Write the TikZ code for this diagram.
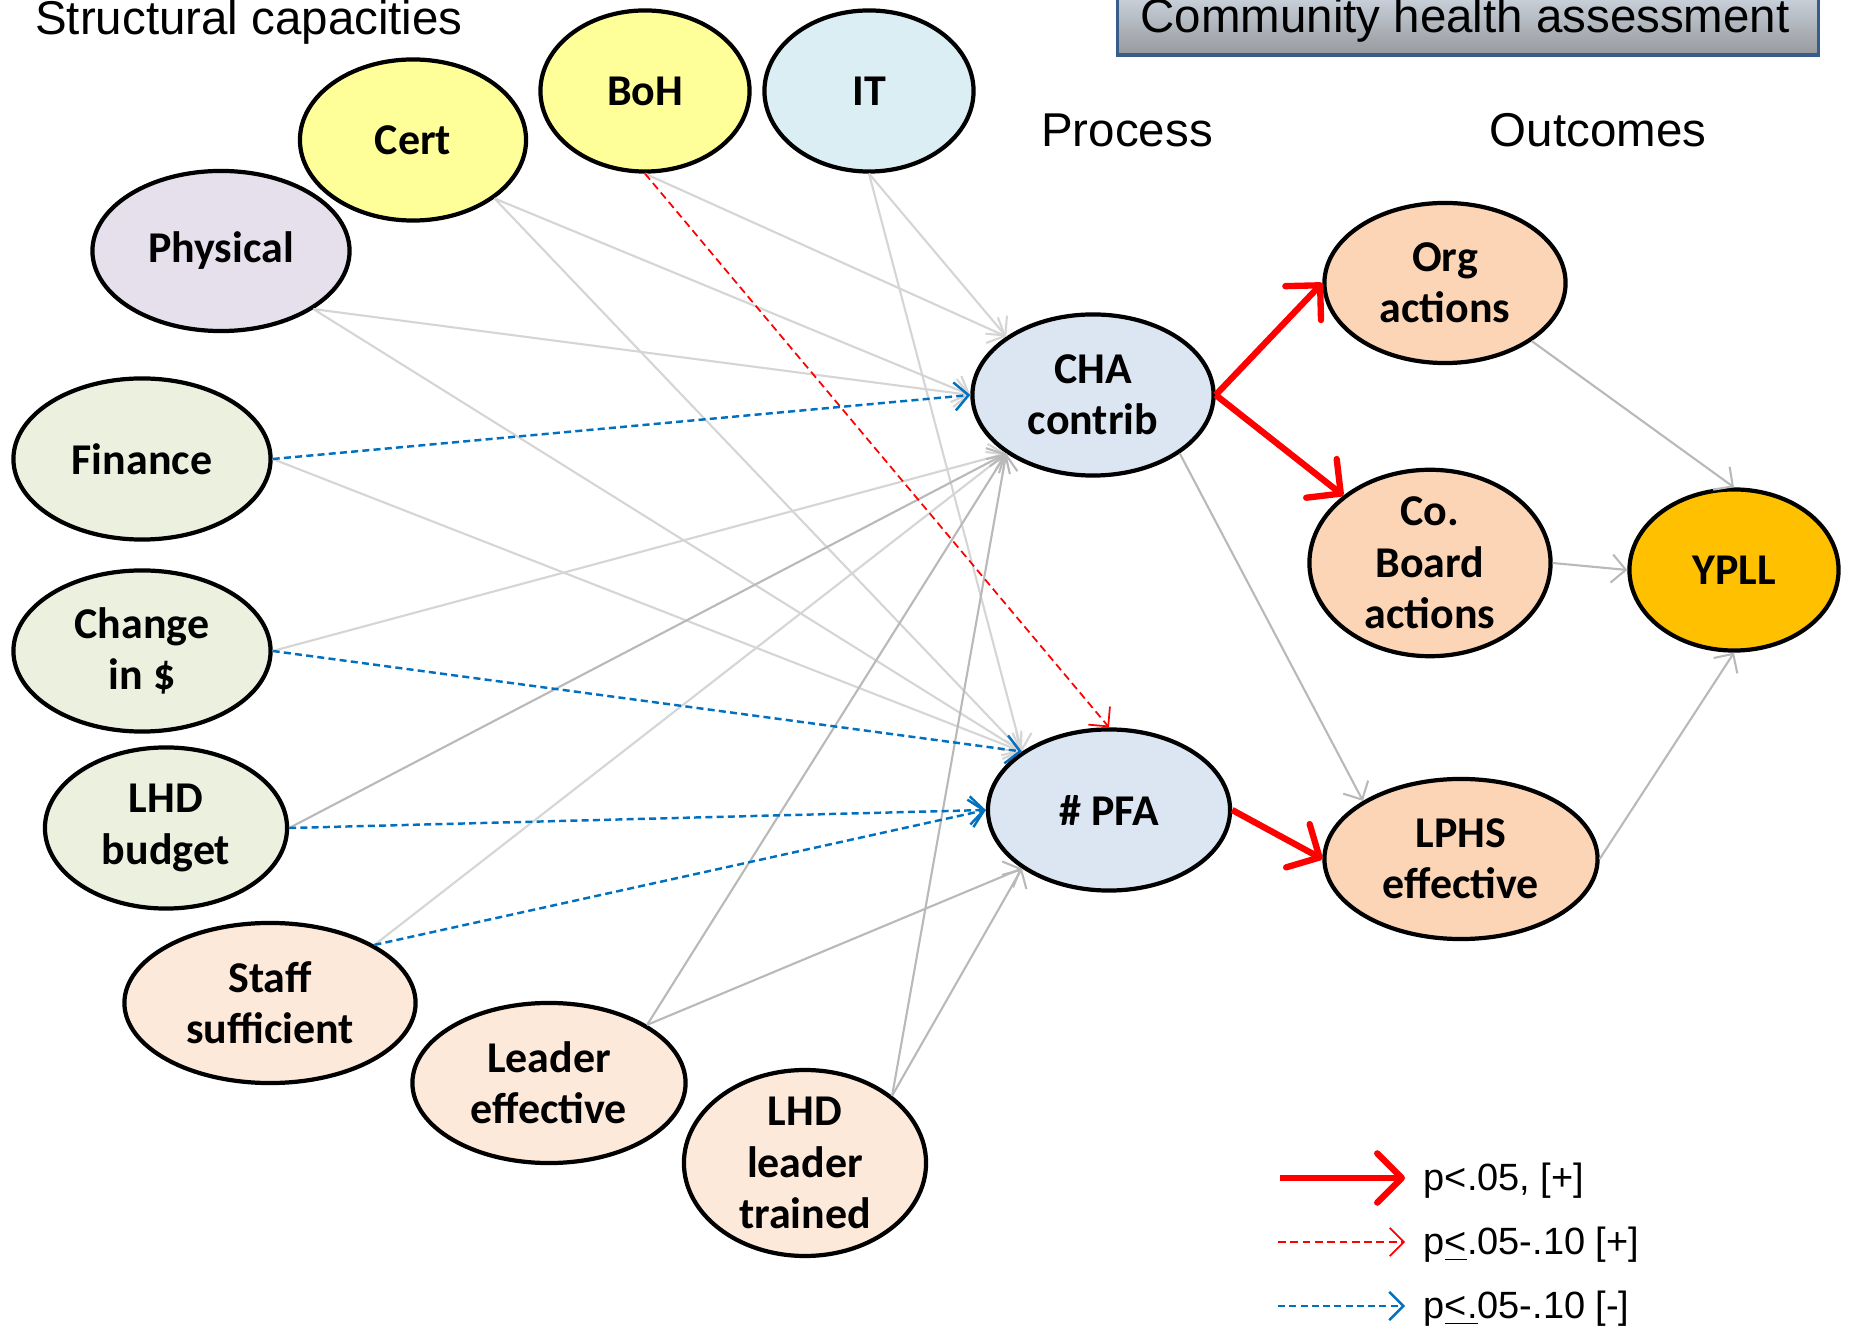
\documentclass[tikz,border=0pt]{standalone}
\usepackage{fontspec}
\setmainfont{Liberation Sans}
\newfontfamily\calib{Carlito}
\usetikzlibrary{shapes.geometric,arrows.meta}

\definecolor{capyellow}{HTML}{FFFF99}
\definecolor{capblue}{HTML}{DAEEF3}
\definecolor{caplilac}{HTML}{E5E0EC}
\definecolor{capgreen}{HTML}{EBF1DE}
\definecolor{cappeach}{HTML}{FDE9D9}
\definecolor{procblue}{HTML}{DCE6F2}
\definecolor{outpeach}{HTML}{FBD5B5}
\definecolor{outgold}{HTML}{FFC000}
\definecolor{sigblue}{HTML}{0070C0}
\definecolor{boxedge}{HTML}{385D8A}

\tikzset{
    var/.style={ellipse,draw=black,line width=1.2pt,inner sep=0pt,align=center,
        font=\calib\bfseries\fontsize{12.5}{14.6}\selectfont},
    heading/.style={font=\fontsize{13.5}{15}\selectfont},
    legtext/.style={anchor=west,inner sep=0pt,font=\fontsize{10.8}{12}\selectfont},
    lightedge/.style={draw=gray!33,line width=0.6pt,-{Straight Barb[length=4pt,width=8pt]}},
    darkedge/.style={draw=gray!55,line width=0.6pt,-{Straight Barb[length=4pt,width=8pt]}},
    negedge/.style={draw=sigblue,line width=0.7pt,dash pattern=on 2pt off 1.2pt,
        -{Straight Barb[length=4pt,width=8pt,line width=0.7pt]}},
    posedge/.style={draw=red,line width=0.5pt,dash pattern=on 2.2pt off 1.3pt,
        -{Straight Barb[length=4pt,width=8pt,line width=0.5pt]}},
    sigedge/.style={draw=red,line width=1.8pt,
        -{Straight Barb[length=7pt,width=14pt,line cap=round,line join=round]}}
}

\begin{document}
\begin{tikzpicture}[x=0.01cm,y=-0.01cm]
    \useasboundingbox (0,0) rectangle (1860,1331);

    % Titulos
    \node[heading] (lblcap) at (249,22) {Structural capacities};
    \node[heading] (lblproc) at (1127,130) {Process};
    \node[heading] (lblout) at (1598,130) {Outcomes};
    \node[draw=boxedge,line width=0.9pt,top color=procblue,middle color=procblue,
        bottom color=gray!75!procblue,minimum width=7cm,minimum height=0.8cm] (titlebox)
        at (1468,15) {};
    \node[heading] (title) at (1465,20) {Community health assessment};

    % Capacidades estructurales
    \node[var,fill=capyellow,minimum width=2.26cm,minimum height=1.61cm] (cert) at (413,140) {Cert};
    \node[var,fill=capyellow,minimum width=2.09cm,minimum height=1.61cm] (boh) at (645,91) {BoH};
    \node[var,fill=capblue,minimum width=2.09cm,minimum height=1.61cm] (it) at (869,91) {IT};
    \node[var,fill=caplilac,minimum width=2.57cm,minimum height=1.60cm] (physical) at (221,251) {Physical};
    \node[var,fill=capgreen,minimum width=2.57cm,minimum height=1.61cm] (finance) at (142,459) {Finance};
    \node[var,fill=capgreen,minimum width=2.57cm,minimum height=1.61cm] (change) at (142,651) {Change\\in \$};
    \node[var,fill=capgreen,minimum width=2.42cm,minimum height=1.61cm] (budget) at (166,828) {LHD\\budget};
    \node[var,fill=cappeach,minimum width=2.91cm,minimum height=1.60cm] (staff) at (270,1003) {Staff\\sufficient};
    \node[var,fill=cappeach,minimum width=2.73cm,minimum height=1.60cm] (leader) at (549,1083) {Leader\\effective};
    \node[var,fill=cappeach,minimum width=2.42cm,minimum height=1.60cm] (trained) at (805,1163) {LHD\\leader\\trained};

    % Proceso
    \node[var,fill=procblue,minimum width=2.41cm,minimum height=1.61cm] (cha) at (1093,395) {CHA\\contrib};
    \node[var,fill=procblue,minimum width=2.42cm,minimum height=1.61cm] (pfa) at (1109,810) {\# PFA};

    % Resultados
    \node[var,fill=outpeach,minimum width=2.41cm,minimum height=1.60cm] (org) at (1445,283) {Org\\actions};
    \node[var,fill=outpeach,minimum width=2.41cm,minimum height=1.77cm] (board) at (1430,563) {Co.\\Board\\actions};
    \node[var,fill=outpeach,minimum width=2.73cm,minimum height=1.60cm] (lphs) at (1461,859) {LPHS\\effective};
    \node[var,fill=outgold,minimum width=2.09cm,minimum height=1.61cm] (ypll) at (1734,570) {YPLL};

    % Flechas no significativas
    \foreach \a/\b in {cert.south east/cha.west, cert.south east/pfa.north west,
        physical.south east/cha.west, physical.south east/pfa.north west,
        boh.south/cha.north west, it.south/cha.north west, it.south/pfa.north west,
        finance.east/pfa.north west, change.east/cha.south west,
        staff.north east/cha.south west} {
        \draw[lightedge] (\a) -- (\b);
    }
    \foreach \a/\b in {budget.east/cha.south west, leader.north east/cha.south west,
        leader.north east/pfa.south west, trained.north east/cha.south west,
        trained.north east/pfa.south west, cha.south east/lphs.north west,
        org.south east/ypll.north, board.east/ypll.west, lphs.east/ypll.south} {
        \draw[darkedge] (\a) -- (\b);
    }

    % p<=.05-.10, negativas
    \foreach \a/\b in {finance.east/cha.west, change.east/pfa.north west,
        budget.east/pfa.west, staff.north east/pfa.west} {
        \draw[negedge] (\a) -- (\b);
    }
    % p<=.05-.10, positiva
    \draw[posedge] (boh.south) -- (pfa.north);

    % p<.05
    \draw[sigedge] (cha.east) -- (org.west);
    \draw[sigedge] (cha.east) -- (board.north west);
    \draw[sigedge] (pfa.east) -- (lphs.west);

    % Leyenda
    \coordinate (leg1a) at (1280,1178);
    \coordinate (leg1b) at (1405,1178);
    \coordinate (leg2a) at (1278,1242);
    \coordinate (leg2b) at (1405,1242);
    \coordinate (leg3a) at (1278,1306);
    \coordinate (leg3b) at (1405,1306);
    \draw[sigedge] (leg1a) -- (leg1b);
    \draw[posedge] (leg2a) -- (leg2b);
    \draw[negedge] (leg3a) -- (leg3b);
    \node[legtext] (leg1) at (1423,1181) {p<.05, [+]};
    \node[legtext] (leg2) at (1423,1245) {p\underline{<}.05-.10 [+]};
    \node[legtext] (leg3) at (1423,1309) {p\underline{<.}05-.10 [-]};
\end{tikzpicture}
\end{document}
